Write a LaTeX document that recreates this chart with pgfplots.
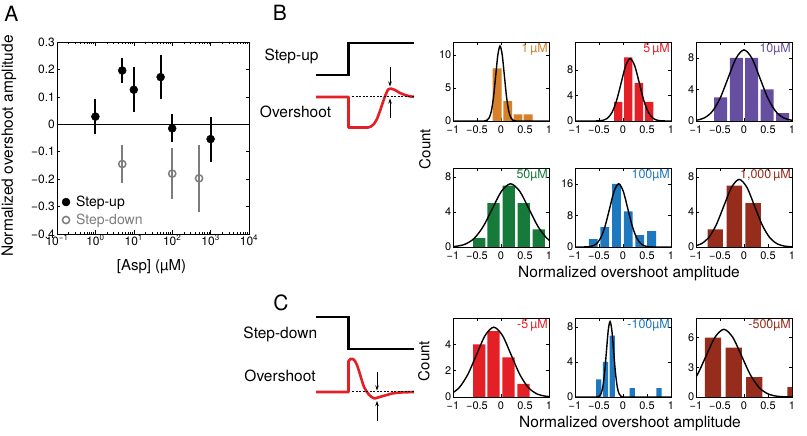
\documentclass[border=0pt]{standalone}
\usepackage{fontspec}
\setmainfont{TeX Gyre Heros}
\usepackage{pgfplots}
\pgfplotsset{compat=1.18}
\usetikzlibrary{arrows.meta}
\newcommand{\fs}[1]{\fontsize{#1}{#1}\selectfont}
\definecolor{cOr}{RGB}{214,128,42}
\definecolor{cRd}{RGB}{229,31,38}
\definecolor{cPu}{RGB}{102,78,160}
\definecolor{cGr}{RGB}{22,122,58}
\definecolor{cBl}{RGB}{30,120,192}
\definecolor{cBr}{RGB}{150,45,28}
\definecolor{cGy}{RGB}{125,125,125}
\tikzset{plab/.style={anchor=north east, inner sep=1pt, font=\fs{12.5}}}
\pgfplotsset{
  hist/.style={scale only axis, width=96pt, height=79pt, anchor=south west,
    xmin=-1, xmax=1, ymin=0,
    xtick={-1,-0.5,0,0.5,1}, xticklabels={−1,−0.5,0,0.5,1},
    tick align=inside, major tick length=3pt, minor tick num=0,
    ticklabel style={font=\fs{11}},
    xticklabel style={inner xsep=1pt, inner ysep=0pt, yshift=-4.5pt},
    yticklabel style={inner xsep=1.5pt, inner ysep=0pt},
    axis line style={line width=0.6pt}, every tick/.style={black, line width=0.5pt},
    /pgf/number format/assume math mode=true},
  gfit/.style={black, line width=1.4pt, smooth, no marks},
  hbar/.style={ybar, bar shift=0pt, draw=none, fill=#1},
}
\begin{document}
\begin{tikzpicture}
\useasboundingbox (0,0) rectangle (807pt,436pt);
% ---------------- Panel A
\begin{axis}[at={(57pt,202pt)}, anchor=south west, scale only axis, width=192pt, height=192pt,
  xmode=log, xmin=0.1, xmax=10000, ymin=-0.4, ymax=0.3,
  xtick={0.1,1,10,100,1000,10000},
  xticklabels={10\textsuperscript{−1},10\textsuperscript{0},10\textsuperscript{1},10\textsuperscript{2},10\textsuperscript{3},10\textsuperscript{4}},
  ytick={-0.4,-0.3,-0.2,-0.1,0,0.1,0.2,0.3},
  yticklabels={−0.4,−0.3,−0.2,−0.1,0,0.1,0.2,0.3},
  tick align=inside, major tick length=3.5pt, minor tick length=2pt,
  ticklabel style={font=\fs{12}}, xticklabel style={inner sep=1pt}, yticklabel style={inner sep=2pt},
  axis line style={line width=0.6pt}, every tick/.style={black, line width=0.5pt},
  xlabel={[Asp] (µM)}, ylabel={Normalized overshoot amplitude},
  every axis x label/.style={at={(rel axis cs:0.492,-0.172)}, anchor=center, font=\fs{15}},
  every axis y label/.style={at={(rel axis cs:-0.25,0.458)}, anchor=center, rotate=90, font=\fs{15.5}},
  legend style={draw=none, fill=none, at={(rel axis cs:0.02,0.025)}, anchor=south west,
    font=\fs{14}, row sep=2pt, column sep=4pt, inner sep=1pt},
  legend cell align=left,
]
\addplot[black, line width=1.2pt, forget plot] coordinates {(0.1,0) (10000,0)};
\addplot[only marks, mark=*, mark size=4pt, black,
  error bars/.cd, y dir=both, y explicit, error mark=none,
  error bar style={line width=1.8pt, black}]
  coordinates {(1,0.028) +- (0,0.063) (5,0.196) +- (0,0.047) (10,0.126) +- (0,0.083)
               (50,0.172) +- (0,0.079) (100,-0.015) +- (0,0.051) (1000,-0.054) +- (0,0.082)};
\addlegendentry{Step-up}
\addplot[only marks, mark=o, mark size=3.6pt, cGy, mark options={fill=white, line width=1.5pt},
  error bars/.cd, y dir=both, y explicit, error mark=none,
  error bar style={line width=1.8pt, cGy}]
  coordinates {(5,-0.145) +- (0,0.07) (100,-0.18) +- (0,0.092) (500,-0.197) +- (0,0.123)};
\addlegendentry{\textcolor{cGy}{Step-down}}
\end{axis}
% ---------------- Schematics
\begin{axis}[at={(0pt,0pt)}, anchor=south west, scale only axis, width=807pt, height=436pt,
  xmin=0, xmax=807, ymin=0, ymax=436, axis lines=none, clip=false]
\addplot[black, line width=2.6pt] coordinates {(316,361) (348.5,361) (348.5,393) (414,393)};
\addplot[cRd, line width=2.6pt, line join=round] coordinates {(316,339) (348.5,339) (348.5,308.5) (368,308.5) (371,309.5) (374,312) (377,317) (380,325) (383,334) (385.5,341) (388,346.5) (391,347.5) (395,346) (400,343) (405,341) (410,339.6) (414,339.2)};
\addplot[black, line width=1pt, dash pattern=on 2pt off 1.5pt] coordinates {(352,339) (414,339)};
\addplot[black, line width=0.8pt, -{Stealth[length=5pt,width=3.5pt]}] coordinates {(390,369) (390,349.5)};
\addplot[black, line width=0.8pt, -{Stealth[length=5pt,width=3.5pt]}] coordinates {(390,318) (390,337.5)};
\addplot[black, line width=2.6pt] coordinates {(316,119) (348.5,119) (348.5,87) (414,87)};
\addplot[cRd, line width=2.6pt, line join=round] coordinates {(316,44) (348.5,44) (348.5,75) (350.5,77) (353,77) (355,75) (357,71) (359,65) (361.7,56) (364,49) (366.7,44.3) (369,41.3) (371.7,38.9) (374,37.7) (376,37.8) (378.3,38.6) (382,39.7) (386.7,41) (392,42.5) (400,43.5) (414,44)};
\addplot[black, line width=1pt, dash pattern=on 2pt off 1.5pt] coordinates {(352,44) (414,44)};
\addplot[black, line width=0.8pt, -{Stealth[length=5pt,width=3.5pt]}] coordinates {(377,64) (377,45.5)};
\addplot[black, line width=0.8pt, -{Stealth[length=5pt,width=3.5pt]}] coordinates {(377,15) (377,35)};
\end{axis}
% ---------------- Histograms B row 1
\begin{axis}[hist, at={(453pt,315pt)}, ymax=12, ytick={0,5,10}]
\addplot[hbar=cOr, bar width=0.185] coordinates {(-0.08,8) (0.14,3) (0.355,1) (0.565,1)};
\addplot[gfit] coordinates {(-1,0) (-0.38,0.004) (-0.335,0.025) (-0.29,0.127) (-0.245,0.50) (-0.2,1.54) (-0.155,3.70) (-0.11,6.91) (-0.065,10.06) (-0.02,11.4) (0.025,10.06) (0.07,6.91) (0.115,3.70) (0.16,1.54) (0.205,0.50) (0.25,0.127) (0.295,0.025) (0.34,0.004) (1,0)};
\node[plab, text=cOr] at (rel axis cs:1,1) {1\,µM};
\end{axis}
\begin{axis}[hist, at={(575pt,315pt)}, ymax=12.4, ytick={0,4,8}]
\addplot[hbar=cRd, bar width=0.175] coordinates {(-0.1,3) (0.11,10) (0.33,6) (0.545,3)};
\addplot[gfit] coordinates {(-1,0) (-0.61,0.003) (-0.515,0.022) (-0.42,0.109) (-0.325,0.430) (-0.23,1.326) (-0.135,3.18) (-0.04,5.94) (0.055,8.65) (0.15,9.8) (0.245,8.65) (0.34,5.94) (0.435,3.18) (0.53,1.326) (0.625,0.430) (0.72,0.109) (0.815,0.022) (0.91,0.003) (1,0)};
\node[plab, text=cRd] at (rel axis cs:1,1) {5\,µM};
\end{axis}
\begin{axis}[hist, at={(696pt,315pt)}, ymax=10, ytick={0,4,8}]
\addplot[hbar=cPu, bar width=0.27] coordinates {(-0.485,3) (-0.16,8) (0.16,8) (0.48,4) (0.805,1)};
\addplot[gfit] coordinates {(-1.32,0.003) (-1.155,0.020) (-0.99,0.100) (-0.825,0.395) (-0.66,1.218) (-0.495,2.92) (-0.33,5.46) (-0.165,7.94) (0,9.0) (0.165,7.94) (0.33,5.46) (0.495,2.92) (0.66,1.218) (0.825,0.395) (0.99,0.100) (1.155,0.020) (1.32,0.003)};
\node[plab, text=cPu] at (rel axis cs:1,1) {10µM};
\end{axis}
% ---------------- Histograms B row 2
\begin{axis}[hist, at={(453pt,189pt)}, ymax=9, ytick={0,4,8}]
\addplot[hbar=cGr, bar width=0.255] coordinates {(-0.455,1) (-0.155,5) (0.16,7) (0.475,5) (0.785,2)};
\addplot[gfit] coordinates {(-1.32,0.002) (-1.13,0.016) (-0.94,0.080) (-0.75,0.316) (-0.56,0.974) (-0.37,2.338) (-0.18,4.367) (0.01,6.354) (0.2,7.2) (0.39,6.354) (0.58,4.367) (0.77,2.338) (0.96,0.974) (1.15,0.316) (1.34,0.080)};
\node[plab, text=cGr] at (rel axis cs:1,1) {50µM};
\end{axis}
\begin{axis}[hist, at={(575pt,189pt)}, ymax=20, ytick={0,8,16}]
\addplot[hbar=cBl, bar width=0.185] coordinates {(-0.62,2) (-0.38,5) (-0.135,16) (0.11,9) (0.35,3) (0.595,4)};
\addplot[gfit] coordinates {(-1,0) (-0.85,0.005) (-0.755,0.035) (-0.66,0.178) (-0.565,0.702) (-0.47,2.165) (-0.375,5.20) (-0.28,9.70) (-0.185,14.12) (-0.09,16) (0.005,14.12) (0.10,9.70) (0.195,5.20) (0.29,2.165) (0.385,0.702) (0.48,0.178) (0.575,0.035) (0.67,0.005) (1,0)};
\node[plab, text=cBl] at (rel axis cs:1,1) {100µM};
\end{axis}
\begin{axis}[hist, at={(696pt,189pt)}, ymax=9, ytick={0,4,8}]
\addplot[hbar=cBr, bar width=0.32] coordinates {(-0.6,2) (-0.2,7) (0.19,5)};
\addplot[gfit] coordinates {(-1.38,0.003) (-1.22,0.017) (-1.06,0.086) (-0.90,0.338) (-0.74,1.042) (-0.58,2.50) (-0.42,4.67) (-0.26,6.795) (-0.1,7.7) (0.06,6.795) (0.22,4.67) (0.38,2.50) (0.54,1.042) (0.70,0.338) (0.86,0.086) (1.02,0.017) (1.18,0.003)};
\node[plab, text=cBr] at (rel axis cs:1,1) {1,000\,µM};
\end{axis}
% ---------------- Histograms C
\begin{axis}[hist, at={(453pt,39pt)}, ymax=6, ytick={0,2,4}]
\addplot[hbar=cRd, bar width=0.255] coordinates {(-0.455,4) (-0.155,5) (0.155,3) (0.47,1)};
\addplot[gfit] coordinates {(-1.59,0.002) (-1.41,0.012) (-1.23,0.059) (-1.05,0.233) (-0.87,0.717) (-0.69,1.721) (-0.51,3.214) (-0.33,4.677) (-0.15,5.3) (0.03,4.677) (0.21,3.214) (0.39,1.721) (0.57,0.717) (0.75,0.233) (0.93,0.059) (1.11,0.012) (1.29,0.002)};
\node[plab, text=cRd] at (rel axis cs:1,1) {-5\,µM};
\end{axis}
\begin{axis}[hist, at={(575pt,39pt)}, ymax=9, ytick={0,4,8}]
\addplot[hbar=cBl, bar width=0.11] coordinates {(-0.505,2) (-0.365,4) (-0.225,7) (0.194,1) (0.752,1)};
\addplot[gfit] coordinates {(-1,0) (-0.57,0.003) (-0.5325,0.019) (-0.495,0.096) (-0.4575,0.378) (-0.42,1.164) (-0.3825,2.792) (-0.345,5.216) (-0.3075,7.59) (-0.27,8.6) (-0.2325,7.59) (-0.195,5.216) (-0.1575,2.792) (-0.12,1.164) (-0.0825,0.378) (-0.045,0.096) (-0.0075,0.019) (0.03,0.003) (1,0)};
\node[plab, text=cBl] at (rel axis cs:1,1) {-100µM};
\end{axis}
\begin{axis}[hist, at={(696pt,39pt)}, ymax=8, ytick={0,3,6}]
\addplot[hbar=cBr, bar width=0.34] coordinates {(-0.645,6) (-0.215,5) (0.215,2) (1.075,1)};
\addplot[gfit] coordinates {(-1.9,0.002) (-1.715,0.015) (-1.53,0.076) (-1.345,0.301) (-1.16,0.927) (-0.975,2.224) (-0.79,4.155) (-0.605,6.045) (-0.42,6.85) (-0.235,6.045) (-0.05,4.155) (0.135,2.224) (0.32,0.927) (0.505,0.301) (0.69,0.076) (0.875,0.015) (1.06,0.002)};
\node[plab, text=cBr] at (rel axis cs:1,1) {-500µM};
\end{axis}
% ---------------- Texts
\node[font=\fs{21}] at (11.5pt,422pt) {A};
\node[font=\fs{21}] at (280pt,423pt) {B};
\node[font=\fs{21}] at (281pt,133pt) {C};
\node[font=\fs{15.5}] at (291.5pt,380pt) {Step-up};
\node[font=\fs{15.5}] at (295.5pt,324.5pt) {Overshoot};
\node[font=\fs{15.5}] at (280.3pt,102pt) {Step-down};
\node[font=\fs{15.5}] at (280pt,60.5pt) {Overshoot};
\node[font=\fs{15}, rotate=90] at (425pt,287pt) {Count};
\node[font=\fs{15}, rotate=90] at (424pt,75pt) {Count};
\node[font=\fs{15.5}] at (629pt,162pt) {Normalized overshoot amplitude};
\node[font=\fs{15.5}] at (630pt,12pt) {Normalized overshoot amplitude};
\end{tikzpicture}
\end{document}
